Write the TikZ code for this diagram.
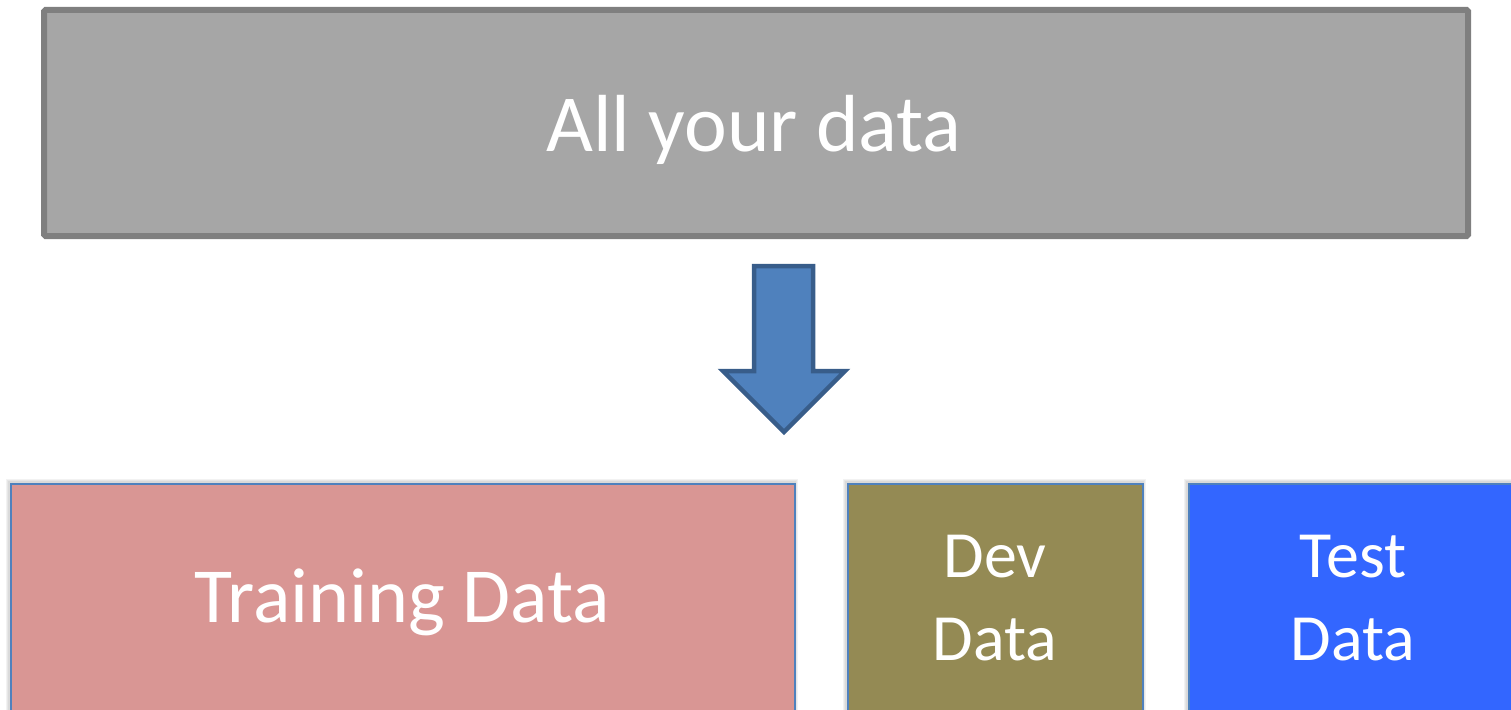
\documentclass[tikz,border=0pt]{standalone}
\usepackage{fontspec}
\setmainfont{Carlito}
\definecolor{allfill}{HTML}{A6A6A6}
\definecolor{alldraw}{HTML}{7F7F7F}
\definecolor{arrowfill}{HTML}{4F81BD}
\definecolor{arrowdraw}{HTML}{385D8A}
\definecolor{trainfill}{HTML}{D99694}
\definecolor{devfill}{HTML}{948A54}
\definecolor{testfill}{HTML}{3366FF}
\definecolor{splitdraw}{HTML}{4F81BD}
\tikzset{
  allbox/.style={rectangle, fill=allfill, draw=alldraw, line width=6pt,
    rounded corners=1.5pt, inner sep=0pt},
  splitbox/.style={rectangle, draw=splitdraw, line width=2pt, inner sep=0pt},
  halo/.style={fill=black, opacity=0.05},
  bigtxt/.style={text=white, font=\fontsize{81}{97}\selectfont, anchor=base, inner sep=0pt},
  midtxt/.style={text=white, font=\fontsize{78}{94}\selectfont, anchor=base, inner sep=0pt},
  smalltxt/.style={text=white, font=\fontsize{66}{83}\selectfont, anchor=base, inner sep=0pt},
  blockarrow/.style={fill=arrowfill, draw=arrowdraw, line width=4.5pt, line join=miter}
}
\begin{document}
\begin{tikzpicture}[x=1pt, y=-1pt]
  \useasboundingbox (0,0) rectangle (1511,709);
  \clip (0,0) rectangle (1511,709);

  % soft shadows behind the lower boxes
  \foreach \d in {1,2,3}{
    \fill[halo] (9-\d,482-\d) rectangle (795+\d,760);
    \fill[halo] (846-\d,482-\d) rectangle (1143+\d,760);
    \fill[halo] (1187-\d,482-\d) rectangle (1560,760);
  }

  % whole data set
  \node[allbox, minimum width=1424pt, minimum height=226pt] (all) at (756,123) {};
  \node[bigtxt] (alltxt) at (754,151) {All your data};

  % split arrow
  \coordinate (shaftL) at (754,266);
  \coordinate (shaftR) at (813,266);
  \coordinate (tip) at (784,432);
  \draw[blockarrow] (shaftL) -- (shaftR) -- (813,371) -- (845,371) -- (tip)
    -- (723,371) -- (754,371) -- cycle;

  % the three parts
  \node[splitbox, fill=trainfill, minimum width=784pt, minimum height=300pt,
    anchor=north west] (train) at (10,483) {};
  \node[splitbox, fill=devfill, minimum width=295pt, minimum height=300pt,
    anchor=north west] (dev) at (847,483) {};
  \node[splitbox, fill=testfill, minimum width=360pt, minimum height=300pt,
    anchor=north west] (test) at (1188,483) {};

  \node[midtxt] (traintxt) at (402,622) {Training Data};
  \node[smalltxt] (devtxt1) at (995,577) {Dev};
  \node[smalltxt] (devtxt2) at (995,660) {Data};
  \node[smalltxt] (testtxt1) at (1353,577) {Test};
  \node[smalltxt] (testtxt2) at (1353,660) {Data};
\end{tikzpicture}
\end{document}
